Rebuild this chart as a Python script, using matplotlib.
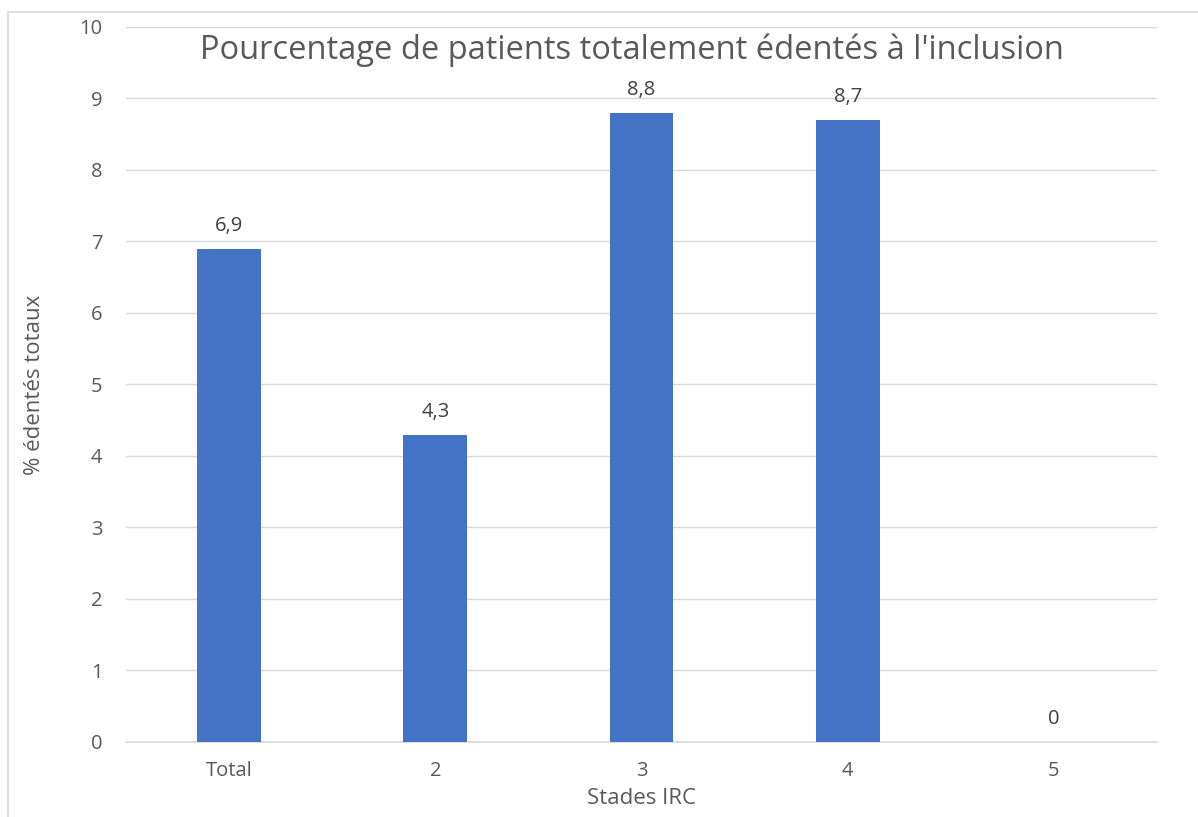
import matplotlib.pyplot as plt
from matplotlib.patches import Rectangle

plt.rcParams['font.family'] = ['Open Sans', 'DejaVu Sans']

stades = ['Total', '2', '3', '4', '5']
pourcentages = [6.9, 4.3, 8.8, 8.7, 0]
etiquettes = ['6,9', '4,3', '8,8', '8,7', '0']

gris = '#595959'
fig = plt.figure(figsize=(11.98, 8.17), dpi=100)
ax = fig.add_axes([0.1052, 0.0918, 0.8606, 0.8752])

x = range(len(stades))
bars = ax.bar(x, pourcentages, width=0.31, color='#4472C4', zorder=3)
for b, txt in zip(bars, etiquettes):
    ax.text(b.get_x() + b.get_width() / 2, b.get_height() + 0.18, txt,
            ha='center', va='bottom', fontsize=14.5, color='#404040')

ax.set_xlim(-0.5, 4.5)
ax.set_ylim(0, 10)
ax.set_yticks(range(11))
ax.set_xticks(list(x))
ax.set_xticklabels(stades)
ax.grid(axis='y', color='#d9d9d9', linewidth=1, zorder=0)
for s in ['top', 'right', 'left']:
    ax.spines[s].set_visible(False)
ax.spines['bottom'].set_color('#d9d9d9')
ax.spines['bottom'].set_linewidth(1.2)
ax.tick_params(axis='both', length=0, labelsize=14.5, labelcolor=gris)
ax.tick_params(axis='x', pad=14)
ax.tick_params(axis='y', pad=17)

ax.set_xlabel('Stades IRC', fontsize=16, color=gris, labelpad=5)
ax.set_ylabel('% édentés totaux', fontsize=16, color=gris, labelpad=25)

fig.text(0.5275, 0.938, "Pourcentage de patients totalement édentés à l'inclusion",
         ha='center', va='center', fontsize=23.5, color=gris)

# cadre gris clair autour du graphique
fig.patches.append(Rectangle((8 / 1198, -0.1), 1.1, 1 - 12 / 817 + 0.1,
                             transform=fig.transFigure, fill=False,
                             edgecolor='#d9d9d9', linewidth=1.2))

fig.savefig('out.png', dpi=100)
